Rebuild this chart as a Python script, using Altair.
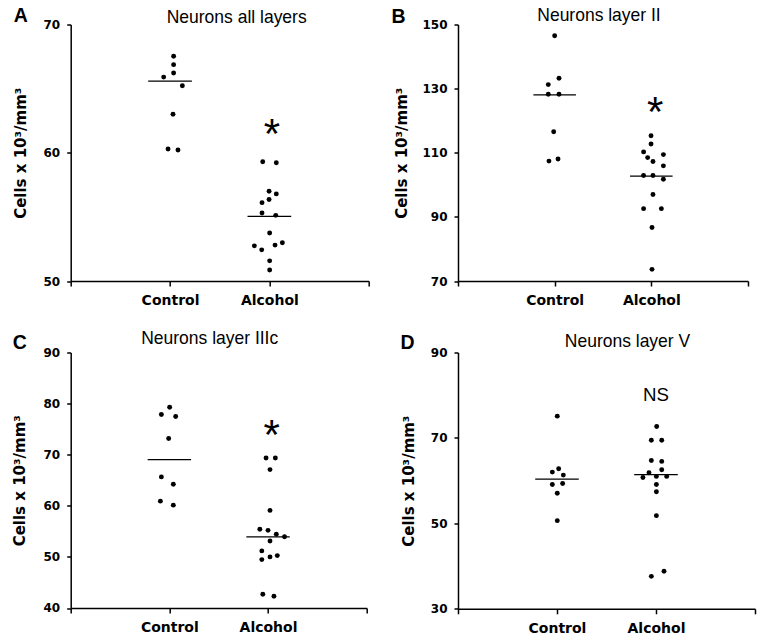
import altair as alt
import pandas as pd

groups = ["Control", "Alcohol"]
y_title = "Cells x 10³/mm³"

# Panel A: Neurons all layers
a_ctrl = [67.52, 66.87, 66.22, 65.90, 65.22, 63.00, 60.29, 60.21]
a_ctrl_jit = [0.036, 0.036, 0.036, -0.064, 0.124, 0.030, -0.020, 0.080]
a_alc = [59.30, 59.22, 57.00, 56.79, 56.35, 56.11, 55.30, 55.12, 53.74, 52.74, 52.43, 52.80, 52.98, 51.57, 50.86]
a_alc_jit = [-0.067, 0.070, -0.003, 0.070, -0.003, -0.074, -0.074, 0.064, 0.003, -0.151, -0.077, 0.057, 0.131, 0.003, 0.003]
a_median = [65.59, 55.04]

# Panel B: Neurons layer II
b_ctrl = [146.48, 133.23, 131.26, 128.26, 128.26, 116.56, 107.40, 108.03]
b_ctrl_jit = [0.000, 0.045, -0.066, -0.066, 0.045, -0.010, -0.059, 0.035]
b_alc = [115.32, 112.74, 110.26, 109.42, 108.49, 107.25, 105.91, 102.90, 102.90, 101.75, 97.00, 92.56, 92.56, 86.67, 73.63]
b_alc_jit = [-0.003, -0.003, -0.080, 0.125, -0.038, 0.017, 0.125, -0.080, 0.017, 0.125, 0.017, -0.080, 0.104, 0.007, 0.007]
b_median = [128.05, 102.70]

# Panel C: Neurons layer IIIc
c_ctrl = [79.29, 77.86, 77.47, 73.18, 65.65, 64.22, 60.91, 60.13]
c_ctrl_jit = [0.003, -0.081, 0.064, -0.007, -0.081, 0.040, -0.091, 0.040]
c_alc = [69.35, 69.35, 67.08, 59.10, 55.40, 55.20, 54.42, 53.95, 53.11, 51.17, 49.47, 50.00, 50.25, 42.70, 42.30]
c_alc_jit = [-0.020, 0.074, 0.020, 0.020, -0.083, 0.000, 0.084, 0.167, 0.020, -0.063, -0.063, 0.020, 0.094, -0.053, 0.060]
c_median = [69.03, 53.90]

# Panel D: Neurons layer V
d_ctrl = [75.10, 62.78, 62.00, 61.30, 59.10, 59.33, 57.06, 50.63]
d_ctrl_jit = [0.003, 0.017, -0.047, 0.064, -0.047, 0.057, 0.003, 0.003]
d_alc = [72.66, 69.44, 69.44, 64.73, 64.50, 62.54, 61.84, 60.74, 61.00, 61.00, 59.10, 57.40, 51.80, 37.60, 38.80]
d_alc_jit = [0.007, -0.047, 0.058, -0.047, 0.058, 0.058, -0.071, -0.132, 0.004, 0.108, 0.004, 0.004, 0.004, -0.047, 0.081]
d_median = [60.35, 61.40]

# significance annotations (text, x position, y value)
annotations = [("*", 2.025, 62.28), ("*", 2.04, 125.88), ("*", 2.037, 75.85), ("NS", 2.0, 80.19)]

letters = ["A", "B", "C", "D"]
titles = ["Neurons all layers", "Neurons layer II", "Neurons layer IIIc", "Neurons layer V"]
y_domains = [[50, 70], [70, 150], [40, 90], [30, 90]]
y_ticks = [[50, 60, 70], [70, 90, 110, 130, 150], [40, 50, 60, 70, 80, 90], [30, 50, 70, 90]]

# layout/style settings per panel
sizes = [(298, 256.5), (290, 256.5), (296, 255.5), (297, 256.3)]
title_dx = [17, -4, -9, 21]
title_off = [1.2, 4, 8.7, 5.3]
ytitle_pad = [14.6, 12.2, 15.2, 13.9]
letter_pos = [(-57, -3), (-66.6, -1.2), (-58, -3.7), (-57.6, -3.7)]

FONT_B = "DejaVu Sans"
FONT_T = "Liberation Sans"


def panel(i, ctrl, ctrl_j, alc, alc_j, med):
    w, h = sizes[i]
    pts = pd.DataFrame({
        "x": [1 + j for j in ctrl_j] + [2 + j for j in alc_j],
        "v": ctrl + alc,
        "g": [groups[0]] * len(ctrl) + [groups[1]] * len(alc),
    })
    meds = pd.DataFrame({"pos": [1, 2], "m": med})
    ann_txt, ann_x, ann_y = annotations[i]
    ann = pd.DataFrame({"x": [ann_x], "v": [ann_y], "t": [ann_txt]})
    let = pd.DataFrame({"t": [letters[i]]})
    ttl = pd.DataFrame({"t": [titles[i]]})

    xscale = alt.Scale(domain=[0, 3], nice=False, zero=False)
    yscale = alt.Scale(domain=y_domains[i], nice=False, zero=False)

    xaxis = alt.Axis(
        values=[0, 1, 2, 3],
        labelExpr="datum.value == 1 ? 'Control' : datum.value == 2 ? 'Alcohol' : ''",
        title="", grid=False, domainColor="black", domainWidth=1.5,
        tickColor="black", tickWidth=1.5, tickSize=5,
        labelFont=FONT_B, labelFontWeight="bold", labelFontSize=14,
        labelColor="black", labelPadding=7.5, labelFlush=False,
    )
    yaxis = alt.Axis(
        values=y_ticks[i], title=y_title, grid=False,
        domainColor="black", domainWidth=1.5,
        tickColor="black", tickWidth=1.5, tickSize=4,
        labelFont=FONT_B, labelFontWeight="bold", labelFontSize=12,
        labelColor="black", labelPadding=7,
        titleFont=FONT_B, titleFontWeight="bold", titleFontSize=15,
        titleColor="black", titlePadding=ytitle_pad[i],
    )

    points = alt.Chart(pts).mark_circle(size=24, color="black", opacity=1).encode(
        x=alt.X("x:Q", scale=xscale, axis=xaxis),
        y=alt.Y("v:Q", scale=yscale, axis=yaxis),
    )
    rules = alt.Chart(meds).transform_calculate(
        xs="datum.pos - 0.22", xe="datum.pos + 0.22"
    ).mark_rule(color="black", strokeWidth=1.2).encode(
        x=alt.X("xs:Q", scale=xscale),
        x2="xe:Q",
        y=alt.Y("m:Q", scale=yscale),
    )
    if ann_txt == "*":
        amark = alt.Chart(ann).mark_text(font=FONT_T, fontSize=42, baseline="alphabetic",
                                         align="center", dy=24, color="black")
    else:
        amark = alt.Chart(ann).mark_text(font=FONT_T, fontSize=18.7, baseline="alphabetic",
                                         align="center", dy=6.7, color="black")
    annot = amark.encode(
        x=alt.X("x:Q", scale=xscale), y=alt.Y("v:Q", scale=yscale), text="t:N"
    )
    lx, ly = letter_pos[i]
    letter = alt.Chart(let).mark_text(
        font=FONT_T, fontSize=19.5, fontWeight="bold", align="left",
        baseline="alphabetic", color="black"
    ).encode(x=alt.value(lx), y=alt.value(ly), text="t:N")
    title = alt.Chart(ttl).mark_text(
        font=FONT_T, fontSize=17.5, align="center", baseline="alphabetic", color="black"
    ).encode(x=alt.value(w / 2 + title_dx[i]), y=alt.value(-title_off[i]), text="t:N")

    return alt.layer(points, rules, annot, letter, title).properties(width=w, height=h)


pA = panel(0, a_ctrl, a_ctrl_jit, a_alc, a_alc_jit, a_median)
pB = panel(1, b_ctrl, b_ctrl_jit, b_alc, b_alc_jit, b_median)
pC = panel(2, c_ctrl, c_ctrl_jit, c_alc, c_alc_jit, c_median)
pD = panel(3, d_ctrl, d_ctrl_jit, d_alc, d_alc_jit, d_median)

chart = alt.concat(
    pA, pB, pC, pD, columns=2,
    spacing={"row": 71, "column": 89.3},
    bounds="flush",
).properties(
    autosize=alt.AutoSizeParams(type="none"),
    padding={"left": 62.7, "top": 16.5, "right": 686, "bottom": 608},
    background="white",
).configure_view(strokeWidth=0)

chart.save("out.html", embed_options={"renderer": "svg", "actions": False})
